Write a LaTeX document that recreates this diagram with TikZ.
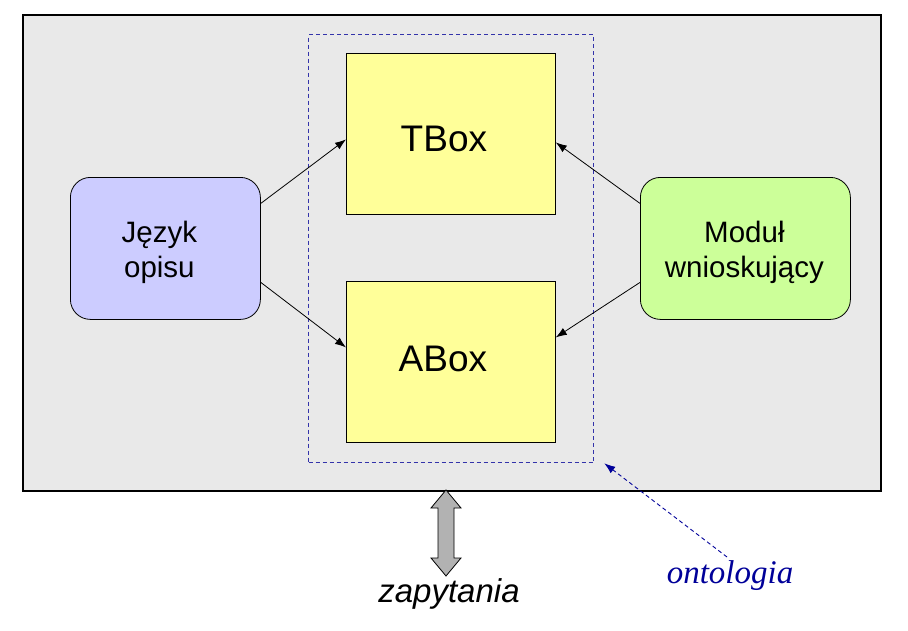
\documentclass[tikz,border=0pt]{standalone}
\usepackage{fontspec}
\setmainfont{Liberation Sans}
\newfontfamily\serifit{Liberation Serif}
\usetikzlibrary{arrows.meta,calc}
\definecolor{bgray}{HTML}{E9E9E9}
\definecolor{ylw}{HTML}{FFFF99}
\definecolor{lav}{HTML}{CCCCFF}
\definecolor{lgreen}{HTML}{CCFF99}
\definecolor{dashblue}{HTML}{3333AA}
\definecolor{dblue}{HTML}{000099}
\definecolor{arrgray}{HTML}{B2B2B2}
\begin{document}
\begin{tikzpicture}[x=1pt,y=-1pt,
  boxstyle/.style={draw=black, line width=0.8pt, fill=ylw, minimum width=209pt, minimum height=161pt, anchor=north west, inner sep=0pt},
  sidebox/.style={draw=black, line width=0.8pt, rounded corners=20pt, minimum height=142pt, anchor=north west, inner sep=0pt},
  bigtext/.style={font=\fontsize{37}{44}\selectfont, inner sep=0pt},
  sidetext/.style={font=\fontsize{29.5}{35}\selectfont, align=center, inner sep=0pt},
  conn/.style={draw=black, line width=0.8pt, -{Latex[length=11pt,width=8pt]}}
]
\useasboundingbox (0,0) rectangle (908,630);
\node[draw=black, fill=bgray, line width=2.2pt, minimum width=858pt, minimum height=476pt, anchor=north west, inner sep=0pt] (outer) at (22,14) {};
\node[draw=dashblue, line width=1.3pt, dash pattern=on 4pt off 3pt, minimum width=285pt, minimum height=428pt, anchor=north west, inner sep=0pt] (onto) at (308,34) {};
\node[boxstyle] (tbox) at (346,53) {};
\node[boxstyle] (abox) at (346,281) {};
\node[bigtext] (tboxlbl) at ($(tbox.center)+(-7,5)$) {TBox};
\node[bigtext] (aboxlbl) at ($(abox.center)+(-8,-3)$) {ABox};
\node[sidebox, fill=lav, minimum width=190pt] (jezyk) at (70,177) {};
\node[sidebox, fill=lgreen, minimum width=210pt] (modul) at (640,177) {};
\node[sidetext] (jezyklbl) at ($(jezyk.center)+(-6,4)$) {Język\\opisu};
\node[sidetext] (modullbl) at ($(modul.center)+(-1,4)$) {Moduł\\wnioskujący};
\draw[conn] ($(jezyk.east)+(0,-45)$) -- ($(tbox.west)+(0,5.5)$);
\draw[conn] ($(jezyk.east)+(0,34)$) -- ($(abox.west)+(0,-14.5)$);
\draw[conn] ($(modul.west)+(0,-45)$) -- ($(tbox.east)+(0,8.5)$);
\draw[conn] ($(modul.west)+(0,34)$) -- ($(abox.east)+(0,-24.5)$);
% double arrow
\coordinate (qtop) at (446,490);
\filldraw[fill=arrgray, draw=black, line width=0.8pt]
  (qtop) -- ++(15,18) -- ++(-7,0) -- ++(0,50) -- ++(7,0) -- ++(-15,18)
  -- ++(-15,-18) -- ++(7,0) -- ++(0,-50) -- ++(-7,0) -- cycle;
\node[font=\itshape\fontsize{33}{39}\selectfont, inner sep=0pt] (zap) at (449,594) {zapytania};
\node[font=\serifit\itshape\fontsize{33}{40}\selectfont, text=dblue, inner sep=0pt] (ontolbl) at (730,576) {ontologia};
\coordinate (ontostart) at (727,557);
\draw[draw=dblue, line width=0.9pt, dash pattern=on 4pt off 3pt, -{Latex[length=11pt,width=8pt]}] (ontostart) -- ($(onto.south east)+(10,0)$);
\end{tikzpicture}
\end{document}
